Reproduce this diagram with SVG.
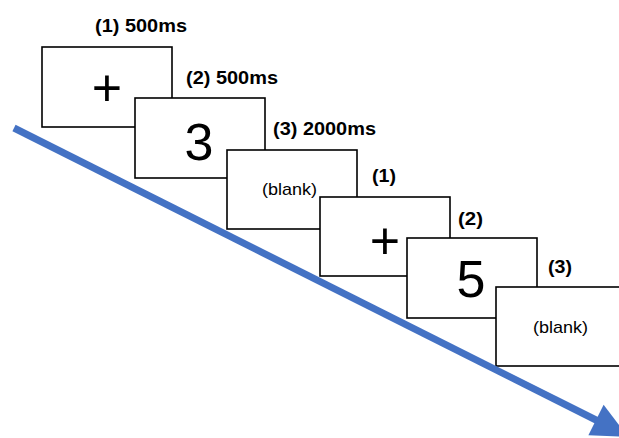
<svg xmlns="http://www.w3.org/2000/svg" width="619" height="438" viewBox="0 0 619 438">
<style>
.box{fill:#fff;stroke:#000;stroke-width:1.6}
.lbl{font-family:"Liberation Sans",Arial,sans-serif;font-weight:bold;font-size:18px;fill:#000}
.big{font-family:"Liberation Sans",Arial,sans-serif;font-size:52px;fill:#000;text-anchor:middle}
.blank{font-family:"Liberation Sans",Arial,sans-serif;font-size:17px;fill:#000}
.arrow{stroke:#4472C4;stroke-width:7;fill:none}
</style>
<rect width="619" height="438" fill="#fff"/>
<g id="node1">
<rect class="box" x="42" y="47" width="130" height="80"/>
<text class="lbl" x="95" y="32" textLength="92" lengthAdjust="spacingAndGlyphs">(1) 500ms</text>
<text class="big" x="107" y="106">+</text>
</g>
<g id="node2">
<rect class="box" x="135" y="98" width="130" height="80"/>
<text class="lbl" x="186" y="84" textLength="92" lengthAdjust="spacingAndGlyphs">(2) 500ms</text>
<text class="big" x="199" y="160">3</text>
</g>
<g id="node3">
<rect class="box" x="227" y="150" width="130" height="79"/>
<text class="lbl" x="273" y="135" textLength="103" lengthAdjust="spacingAndGlyphs">(3) 2000ms</text>
<text class="blank" x="262" y="195" textLength="55" lengthAdjust="spacingAndGlyphs">(blank)</text>
</g>
<g id="node4">
<rect class="box" x="320" y="197" width="130" height="79"/>
<text class="lbl" x="372" y="182" textLength="24" lengthAdjust="spacingAndGlyphs">(1)</text>
<text class="big" x="385" y="259">+</text>
</g>
<g id="node5">
<rect class="box" x="407" y="238" width="130" height="80"/>
<text class="lbl" x="458" y="225" textLength="25" lengthAdjust="spacingAndGlyphs">(2)</text>
<text class="big" x="471" y="297">5</text>
</g>
<g id="node6">
<rect class="box" x="496" y="287" width="130" height="79"/>
<text class="lbl" x="548" y="273" textLength="24" lengthAdjust="spacingAndGlyphs">(3)</text>
<text class="blank" x="533" y="333" textLength="55" lengthAdjust="spacingAndGlyphs">(blank)</text>
</g>
<g id="connectors">
<line class="arrow" x1="14" y1="128" x2="598" y2="421"/>
<polygon points="603.6,404.8 588.4,435.2 628,437" fill="#4472C4"/>
</g>
</svg>
